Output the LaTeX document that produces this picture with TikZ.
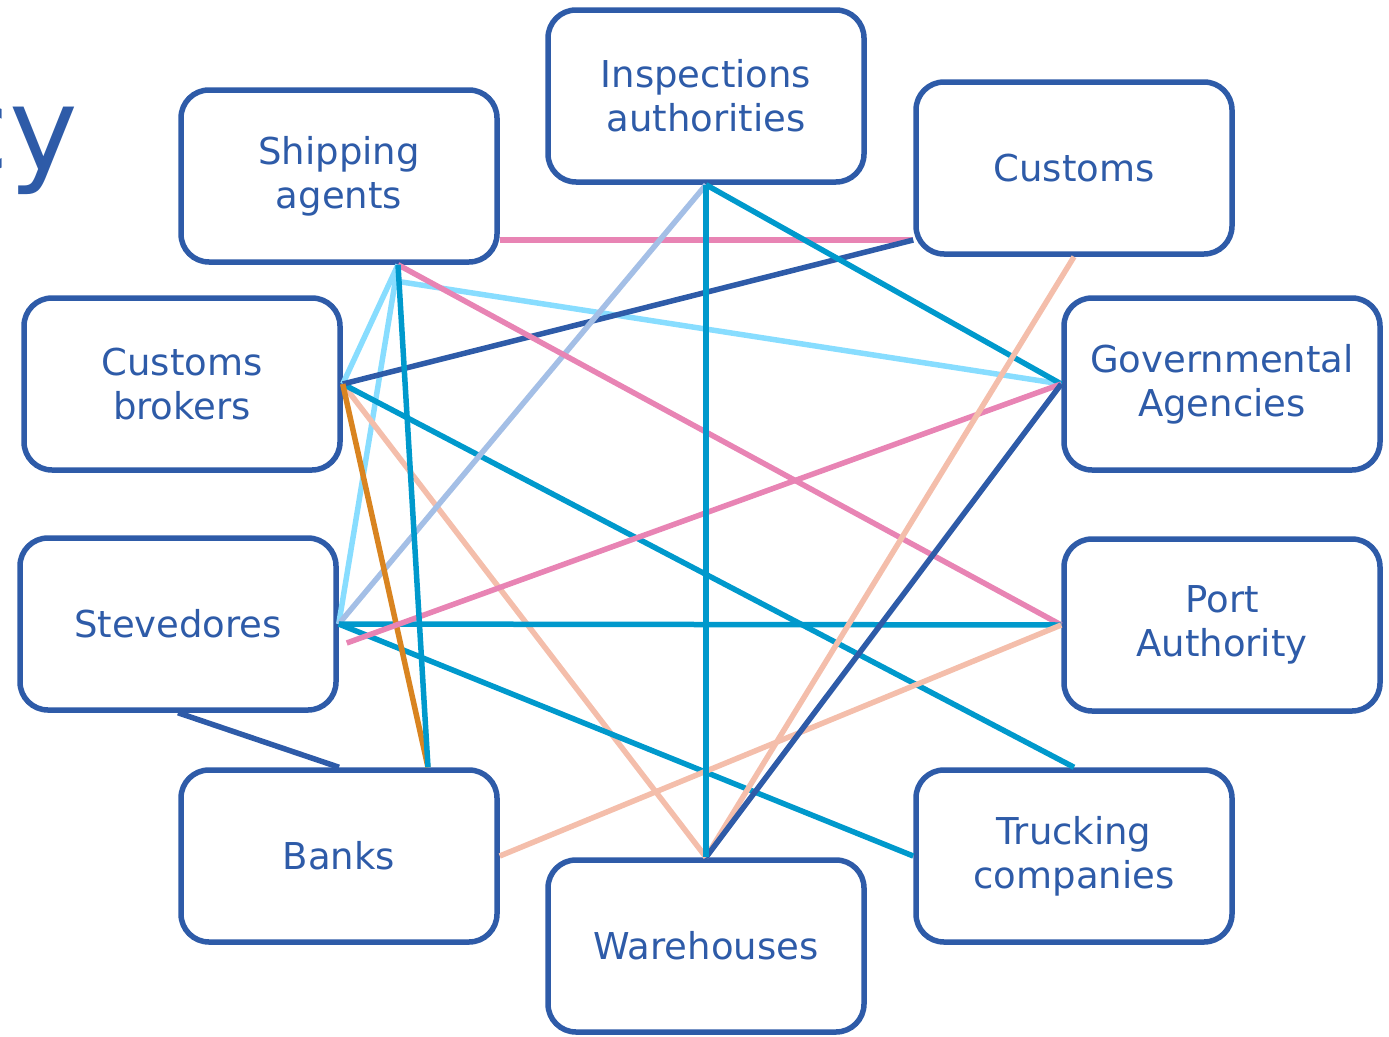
\documentclass[tikz,border=0pt]{standalone}
\usepackage{fontspec}
\setmainfont{DejaVu Sans}
\definecolor{BoxBlue}{HTML}{2E5BA8}
\definecolor{LinkTeal}{HTML}{0099CC}
\definecolor{LinkSky}{HTML}{88DDFF}
\definecolor{LinkPink}{HTML}{E884B4}
\definecolor{LinkSalmon}{HTML}{F4BEAB}
\definecolor{LinkLav}{HTML}{A4BFE6}
\definecolor{LinkOrange}{HTML}{D98420}

\begin{document}
\begin{tikzpicture}[x=1pt, y=-1pt, line width=5.5pt,
      every node/.append style={font=\fontsize{37}{44}\selectfont, color=BoxBlue, align=center}]
	  \tikzstyle{box} = [draw=BoxBlue, rounded corners=28pt, minimum width=316pt, minimum height=172pt, inner sep=0pt]
	  \useasboundingbox (0,0) rectangle (1389,1036);
	  \clip (0,0) rectangle (1389,1036);
	  \node (1_0) [anchor=base east, font=\fontsize{116}{116}\selectfont] at (84,170) {cy};
	  \node (1_1) [box] at (339,176) {Shipping\\agents};
	  \node (1_2) [box] at (706,96) {Inspections\\authorities};
	  \node (1_3) [box] at (1074,168) {Customs};
	  \node (1_4) [box] at (182,384) {Customs\\brokers};
	  \node (1_5) [box] at (1222,384) {Governmental\\Agencies};
	  \node (1_6) [box] at (178,624) {Stevedores};
	  \node (1_7) [box] at (1222,625) {Port\\Authority};
	  \node (1_8) [box] at (339,856) {Banks};
	  \node (1_9) [box] at (1074,856) {Trucking\\companies};
	  \node (1_10) [box] at (706,946) {Warehouses};
	  % links
	  \draw[BoxBlue] (1_6.south) to (1_8.north);
	  \draw[LinkPink] ([yshift=-64pt]1_1.east) to ([yshift=-72pt]1_3.west);
	  \draw[LinkSky] ([xshift=59pt]1_1.south) to (1_4.east);
	  \draw[LinkSky] ([xshift=59pt]1_1.south) to (1_6.east);
	  \draw[LinkSky] ([shift={(61pt,-17pt)}]1_1.south) to (1_5.west);
	  \draw[LinkSalmon] (1_4.east) to (1_10.north);
	  \draw[LinkTeal] (1_4.east) to (1_9.north);
	  \draw[BoxBlue] (1_4.east) to ([yshift=-72pt]1_3.west);
	  \draw[LinkLav] (1_2.south) to (1_6.east);
	  \draw[LinkPink] ([xshift=59pt]1_1.south) to (1_7.west);
	  \draw[LinkTeal] (1_2.south) to (1_5.west);
	  \draw[LinkTeal] (1_6.east) to (1_7.west);
	  \draw[LinkTeal] (1_6.east) to (1_9.west);
	  \draw[LinkOrange] (1_4.east) to ([xshift=89pt]1_8.north);
	  \draw[LinkPink] (1_5.west) to ([shift={(8pt,-19pt)}]1_6.east);
	  \draw[LinkSalmon] (1_8.east) to (1_7.west);
	  \draw[LinkSalmon] (1_3.south) to (1_10.north);
	  \draw[BoxBlue] (1_10.north) to (1_5.west);
	  \draw[LinkTeal] ([xshift=59pt]1_1.south) to ([xshift=89pt]1_8.north);
	  \draw[LinkTeal] (1_2.south) to (1_10.north);
	\end{tikzpicture}
\end{document}
